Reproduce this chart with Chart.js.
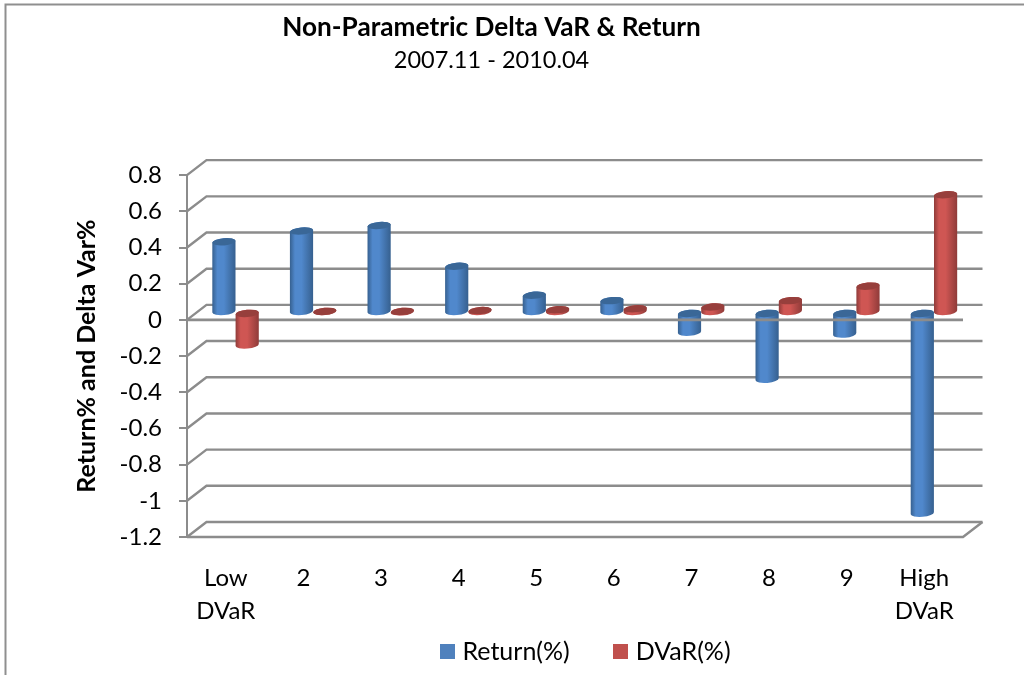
<!DOCTYPE html>
<html>
<head>
<meta charset="utf-8">
<style>
html,body{margin:0;padding:0;background:#fff;overflow:hidden}
#wrap{position:relative;width:1024px;height:675px}
</style>
<script src="https://cdn.jsdelivr.net/npm/chart.js@4"></script>
</head>
<body>
<div id="wrap"><canvas id="c" width="1024" height="675"></canvas></div>
<script>
const categories = [["Low","DVaR"],"2","3","4","5","6","7","8","9",["High","DVaR"]];
const returnValues = [0.39,0.45,0.48,0.255,0.095,0.065,-0.11,-0.37,-0.12,-1.11];
const dvarValues = [-0.18,0.005,0.003,0.01,0.015,0.02,0.03,0.065,0.145,0.65];
const titleText = "Non-Parametric Delta VaR & Return";
const subtitleText = "2007.11 - 2010.04";
const yTitleText = "Return% and Delta Var%";
const FONT = "Lato, Carlito, Calibri, sans-serif";
const GRID = "#8c8c8c";
const DX = 19.5, DY = -15;          // depth of the 3-D box
const PALETTE = {
  "#4f81bd": {edge:"#36608f", mid:"#5088cc", cap:"#3a6797"},
  "#c0504d": {edge:"#8f3b39", mid:"#cf5653", cap:"#973f3c"}
};

function swatch(color) {
  const s = document.createElement("canvas");
  s.width = 15; s.height = 15;
  const x = s.getContext("2d");
  x.fillStyle = color; x.fillRect(0, 0, 15, 15);
  return s;
}

// Draw the library's bar elements as tilted cylinders.
const Bar = Chart.elements.BarElement;
Bar.prototype.draw = function (ctx) {
  const p = this.getProps(["x","y","base","width"], true);
  const pal = PALETTE[this.options.backgroundColor] || PALETTE["#4f81bd"];
  const rx = p.width / 2, ry = 3.6, rot = -0.09;
  const top = Math.min(p.y, p.base), bot = Math.max(p.y, p.base);
  const g = ctx.createLinearGradient(p.x - rx, 0, p.x + rx, 0);
  g.addColorStop(0, pal.edge); g.addColorStop(0.22, pal.mid);
  g.addColorStop(0.5, pal.mid); g.addColorStop(1, pal.edge);
  ctx.save();
  ctx.beginPath();
  ctx.ellipse(p.x, bot, rx, ry, rot, 0, Math.PI, false);
  ctx.ellipse(p.x, top, rx, ry, rot, Math.PI, 2 * Math.PI, false);
  ctx.closePath();
  ctx.fillStyle = g;
  ctx.fill();
  ctx.beginPath();
  ctx.ellipse(p.x, top, rx, ry, rot, 0, 2 * Math.PI);
  ctx.fillStyle = pal.cap;
  ctx.fill();
  ctx.restore();
};

const box3d = {
  id: "box3d",
  afterLayout(chart) {
    const shift = (b, d) => { b.left += d; b.right += d; };
    chart.boxes.forEach(b => {
      if (b.options && b.options.text === titleText) shift(b, -26);
      if (b.options && b.options.text === subtitleText) shift(b, -26);
    });
    shift(chart.legend, 70);
    chart.legend.top += 1; chart.legend.bottom += 1;
    // room for the two-line category labels
    const x = chart.scales.x;
    x.bottom = x.top + 96; x.height = 96;
  },
  beforeDraw(chart) {
    const c = chart.ctx;
    c.save();
    c.strokeStyle = "#8f8f8f"; c.lineWidth = 2;
    c.beginPath();
    c.moveTo(1024, 4.5); c.lineTo(5.5, 4.5); c.lineTo(5.5, 675);
    c.stroke();
    c.restore();
  },
  beforeDatasetsDraw(chart) {
    const c = chart.ctx, y = chart.scales.y, a = chart.chartArea;
    c.save();
    c.strokeStyle = GRID; c.lineWidth = 2.4;
    y.ticks.forEach(t => {
      const py = y.getPixelForValue(t.value);
      c.beginPath();
      c.moveTo(a.left, py);
      c.lineTo(a.left + DX, py + DY);
      c.lineTo(a.right + DX, py + DY);
      c.stroke();
    });
    const b = y.getPixelForValue(y.min);
    c.beginPath();
    c.moveTo(a.left, b); c.lineTo(a.right, b); c.lineTo(a.right + DX, b + DY);
    c.stroke();
    c.restore();
  },
  beforeDatasetDraw() { return false; },
  afterDatasetsDraw(chart) {
    // blue first, then the front zero line, then red on top
    const c = chart.ctx, y = chart.scales.y, a = chart.chartArea;
    const py = y.getPixelForValue(0);
    const paint = i => {
      c.save(); c.translate(DX / 2, DY / 2);
      chart.getDatasetMeta(i).controller.draw();
      c.restore();
    };
    paint(0);
    c.save();
    c.strokeStyle = GRID; c.lineWidth = 2.6;
    c.beginPath(); c.moveTo(a.left, py); c.lineTo(a.right, py); c.stroke();
    c.restore();
    paint(1);
  }
};

const swatches = [swatch("#4f81bd"), swatch("#c0504d")];

new Chart(document.getElementById("c"), {
  type: "bar",
  plugins: [box3d],
  data: {
    labels: categories,
    datasets: [
      {label:"Return(%)", data:returnValues, backgroundColor:"#4f81bd", borderWidth:0, clip:false,
       categoryPercentage:0.6, barPercentage:1},
      {label:"DVaR(%)", data:dvarValues, backgroundColor:"#c0504d", borderWidth:0, clip:false,
       categoryPercentage:0.6, barPercentage:1}
    ]
  },
  options: {
    responsive:false, animation:false,
    layout:{padding:{left:72,right:61,top:12,bottom:2}},
    scales:{
      x:{
        grid:{display:false}, border:{display:false},
        ticks:{autoSkip:false,maxRotation:0,minRotation:0,color:"#000",padding:17,
               font:{family:FONT,size:24,lineHeight:1.375}},
        afterFit(s){ s.height = 53; }
      },
      y:{
        min:-1.2,max:0.8,
        grid:{drawOnChartArea:false,drawTicks:true,tickLength:8,color:GRID,lineWidth:2},
        border:{display:true,color:GRID,width:2},
        ticks:{stepSize:0.2,color:"#000",padding:17,font:{family:FONT,size:24},
               callback:v=>String(Math.round(v*10)/10)},
        title:{display:true,text:yTitleText,color:"#000",font:{family:FONT,size:25,weight:"bold"},padding:{top:0,bottom:4},align:"center"},
        afterFit(s){ s.width = 115; }
      }
    },
    plugins:{
      title:{display:true,text:titleText,color:"#000",font:{family:FONT,size:26.2,weight:"bold"},padding:{top:0,bottom:3}},
      subtitle:{display:true,text:subtitleText,color:"#000",font:{family:FONT,size:23.5,weight:"normal"},padding:{top:0,bottom:100.5}},
      legend:{position:"bottom",labels:{color:"#000",usePointStyle:true,pointStyleWidth:5.5,boxHeight:15,padding:48,font:{family:FONT,size:25},
        generateLabels(chart){
          const items = Chart.defaults.plugins.legend.labels.generateLabels(chart);
          items.forEach((it,i)=>{ it.pointStyle = swatches[i]; });
          return items;
        }}},
      tooltip:{enabled:false}
    }
  }
});
</script>
</body>
</html>
